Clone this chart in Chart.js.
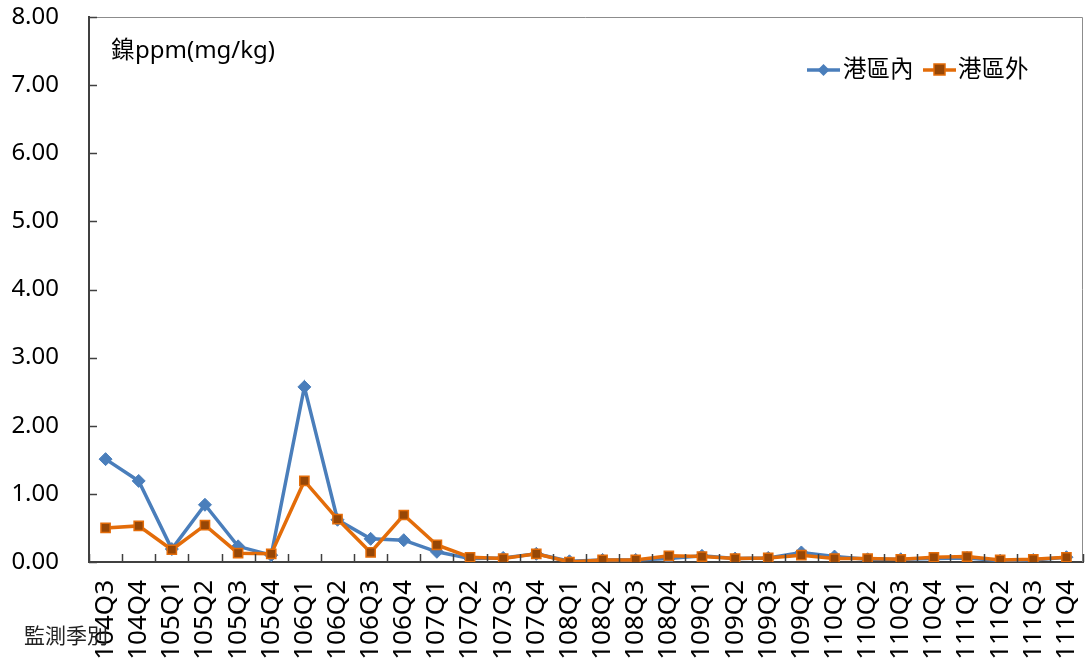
<!DOCTYPE html>
<html>
<head>
<meta charset="utf-8">
<script src="https://cdn.jsdelivr.net/npm/chart.js@4"></script>
<style>
  html, body { margin: 0; padding: 0; background: #fff; }
  #wrap { width: 1091px; height: 661px; position: relative; }
</style>
</head>
<body>
<div id="wrap"><canvas id="nickel-chart"></canvas></div>
<script>
const quarters = [
  "104Q3", "104Q4",
  "105Q1", "105Q2", "105Q3", "105Q4",
  "106Q1", "106Q2", "106Q3", "106Q4",
  "107Q1", "107Q2", "107Q3", "107Q4",
  "108Q1", "108Q2", "108Q3", "108Q4",
  "109Q1", "109Q2", "109Q3", "109Q4",
  "110Q1", "110Q2", "110Q3", "110Q4",
  "111Q1", "111Q2", "111Q3", "111Q4"
];

// 港區內
const insideHarbor = [
  1.51, 1.19,
  0.19, 0.84, 0.23, 0.10,
  2.57, 0.62, 0.34, 0.32,
  0.15, 0.05, 0.06, 0.12,
  0.01, 0.03, 0.03, 0.05,
  0.09, 0.05, 0.06, 0.14,
  0.08, 0.04, 0.04, 0.05,
  0.06, 0.02, 0.03, 0.07
];

// 港區外
const outsideHarbor = [
  0.50, 0.53,
  0.18, 0.54, 0.13, 0.12,
  1.19, 0.63, 0.14, 0.69,
  0.25, 0.07, 0.05, 0.12,
  0.00, 0.03, 0.03, 0.09,
  0.08, 0.05, 0.06, 0.10,
  0.05, 0.05, 0.04, 0.07,
  0.08, 0.03, 0.04, 0.07
];

const yTicks = [0, 1, 2, 3, 4, 5, 6, 7, 8];

const FONT = "'Noto Sans', 'Noto Sans CJK TC', sans-serif";
const BLUE = "#4a7ebb";
const ORANGE = "#e36c09";
const BROWN = "#974706";

// plot frame, inner ticks and the free texts
const framePlugin = {
  id: "frame",
  afterDraw(chart) {
    const ctx = chart.ctx;
    const a = chart.chartArea;
    const xs = chart.scales.x;
    const ys = chart.scales.y;
    ctx.save();

    ctx.strokeStyle = "#8c8c8c";
    ctx.lineWidth = 1;
    ctx.beginPath();
    ctx.moveTo(a.left, a.top + 0.5);
    ctx.lineTo(a.right - 0.5, a.top + 0.5);
    ctx.lineTo(a.right - 0.5, a.bottom);
    ctx.stroke();

    ctx.strokeStyle = "#404040";
    ctx.lineWidth = 1.5;
    ctx.beginPath();
    const step = xs.getPixelForValue(1) - xs.getPixelForValue(0);
    for (let i = 0; i <= quarters.length; i++) {
      const px = Math.round(xs.getPixelForValue(i) - step / 2) + 0.5;
      ctx.moveTo(px, a.bottom);
      ctx.lineTo(px, a.bottom - 8);
    }
    yTicks.forEach((v) => {
      const py = Math.round(ys.getPixelForValue(v)) + 0.5;
      ctx.moveTo(a.left, py);
      ctx.lineTo(a.left + 8, py);
    });
    ctx.stroke();

    ctx.fillStyle = "#000";
    ctx.textBaseline = "middle";
    ctx.font = "24px " + FONT;
    ctx.fillText("鎳ppm(mg/kg)", 111, 51);

    ctx.fillStyle = "#222";
    ctx.font = "21px " + FONT;
    ctx.fillText("監測季別", 24, 637);

    // legend
    ctx.font = "23.5px " + FONT;
    ctx.fillStyle = "#000";
    ctx.lineWidth = 3.5;
    ctx.strokeStyle = BLUE;
    ctx.beginPath();
    ctx.moveTo(807, 70);
    ctx.lineTo(840, 70);
    ctx.stroke();
    ctx.fillStyle = BLUE;
    ctx.beginPath();
    ctx.moveTo(823.5, 64);
    ctx.lineTo(829.5, 70);
    ctx.lineTo(823.5, 76);
    ctx.lineTo(817.5, 70);
    ctx.closePath();
    ctx.fill();
    ctx.fillStyle = "#000";
    ctx.fillText("港區內", 843, 70);

    ctx.strokeStyle = ORANGE;
    ctx.beginPath();
    ctx.moveTo(923, 70);
    ctx.lineTo(956, 70);
    ctx.stroke();
    ctx.fillStyle = BROWN;
    ctx.fillRect(934, 64, 11, 11);
    ctx.lineWidth = 1.5;
    ctx.strokeRect(934, 64, 11, 11);
    ctx.fillStyle = "#000";
    ctx.fillText("港區外", 958, 70);

    ctx.restore();
  }
};

const ctx = document.getElementById("nickel-chart").getContext("2d");

new Chart(ctx, {
  type: "line",
  data: {
    labels: quarters,
    datasets: [
      {
        label: "港區內",
        data: insideHarbor,
        borderColor: BLUE,
        backgroundColor: BLUE,
        borderWidth: 3.5,
        pointStyle: "rectRot",
        pointRadius: 6.5,
        pointBorderWidth: 1,
        pointBorderColor: BLUE,
        pointBackgroundColor: BLUE,
        tension: 0,
        order: 1
      },
      {
        label: "港區外",
        data: outsideHarbor,
        borderColor: ORANGE,
        backgroundColor: BROWN,
        borderWidth: 3.5,
        pointStyle: "rect",
        pointRadius: 6.5,
        pointBorderWidth: 1.5,
        pointBorderColor: ORANGE,
        pointBackgroundColor: BROWN,
        tension: 0,
        order: 0
      }
    ]
  },
  options: {
    responsive: true,
    maintainAspectRatio: false,
    animation: false,
    layout: { padding: { top: 17, right: 2, left: 0, bottom: 0 } },
    plugins: {
      legend: { display: false },
      tooltip: { enabled: false }
    },
    scales: {
      x: {
        offset: true,
        grid: { display: false, drawTicks: false },
        border: { display: true, color: "#404040", width: 2 },
        ticks: {
          autoSkip: false,
          minRotation: 90,
          maxRotation: 90,
          padding: 18,
          color: "#000",
          font: { family: FONT, size: 26 }
        },
        afterFit(scale) {
          scale.height = 99;
          scale.paddingLeft = 0;
          scale.paddingRight = 0;
        }
      },
      y: {
        min: 0,
        max: 8,
        afterBuildTicks(scale) {
          scale.ticks = yTicks.map((v) => ({ value: v }));
        },
        grid: { display: false, drawTicks: false },
        border: { display: true, color: "#404040", width: 2 },
        ticks: {
          padding: 30,
          color: "#000",
          font: { family: FONT, size: 24 },
          callback: (v) => Number(v).toFixed(2)
        },
        afterFit(scale) {
          scale.width = 89;
          scale.paddingTop = 0;
          scale.paddingBottom = 0;
        }
      }
    }
  },
  plugins: [framePlugin]
});
</script>
</body>
</html>
